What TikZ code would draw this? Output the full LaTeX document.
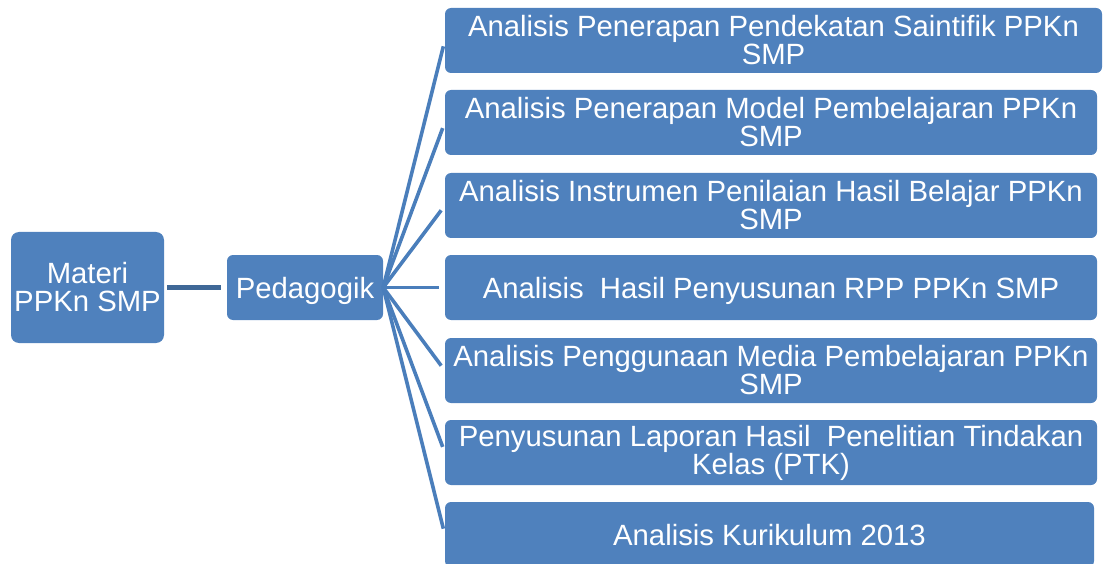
\documentclass[tikz,border=0pt]{standalone}
\usepackage{fontspec}
\setmainfont{Liberation Sans}
\usepackage{xcolor}
\usepackage{tikz}
\definecolor{boxblue}{HTML}{4F81BD}
\definecolor{linkblue}{HTML}{4A7EBB}
\definecolor{darklink}{HTML}{3F6897}
\tikzset{
  topic/.style={fill=boxblue, rounded corners=6pt, text=white, align=center,
    font=\fontsize{29.3}{28}\selectfont, minimum height=65pt, inner sep=0pt},
  item/.style={topic, minimum width=652pt},
  oneline/.style={text height=24pt, text depth=2pt},
  fan/.style={draw=linkblue, line width=3.6pt, shorten >=6pt},
  stem/.style={draw=darklink, line width=5pt, shorten <=3pt, shorten >=6pt},
}

\begin{document}
\begin{tikzpicture}[x=1pt,y=-1pt]
  \useasboundingbox (0,0) rectangle (1103,564);

  \node[topic, minimum width=153pt, minimum height=111pt, rounded corners=8pt]
    (materi) at (87.5,287.5) {Materi\\PPKn SMP};
  \node[topic, oneline, minimum width=156pt] (pedagogik) at (305,287.5) {Pedagogik};

  \node[item, minimum width=657pt] (saintifik) at (773.5,40.5) {Analisis Penerapan Pendekatan Saintifik PPKn\\SMP};
  \node[item] (model)     at (771,122.5) {Analisis Penerapan Model Pembelajaran PPKn\\SMP};
  \node[item] (instrumen) at (771,205.5) {Analisis Instrumen Penilaian Hasil Belajar PPKn\\SMP};
  \node[item, oneline] (rpp) at (771,287.5) {Analisis\ \ Hasil Penyusunan RPP PPKn SMP};
  \node[item] (media)     at (771,370.5) {Analisis Penggunaan Media Pembelajaran PPKn\\SMP};
  \node[item] (ptk)       at (771,452.5) {Penyusunan Laporan Hasil\ \ Penelitian Tindakan\\Kelas (PTK)};
  \node[item, oneline, minimum width=649pt] (kurikulum) at (769.5,534.5) {Analisis Kurikulum 2013};

  \draw[stem] (materi.east) -- (pedagogik.west);

  \draw[fan] (pedagogik.east) -- (saintifik.west);
  \draw[fan] (pedagogik.east) -- (model.west);
  \draw[fan] (pedagogik.east) -- (instrumen.west);
  \draw[fan] (pedagogik.east) -- (rpp.west);
  \draw[fan] (pedagogik.east) -- (media.west);
  \draw[fan] (pedagogik.east) -- (ptk.west);
  \draw[fan] (pedagogik.east) -- (kurikulum.west);
\end{tikzpicture}
\end{document}
